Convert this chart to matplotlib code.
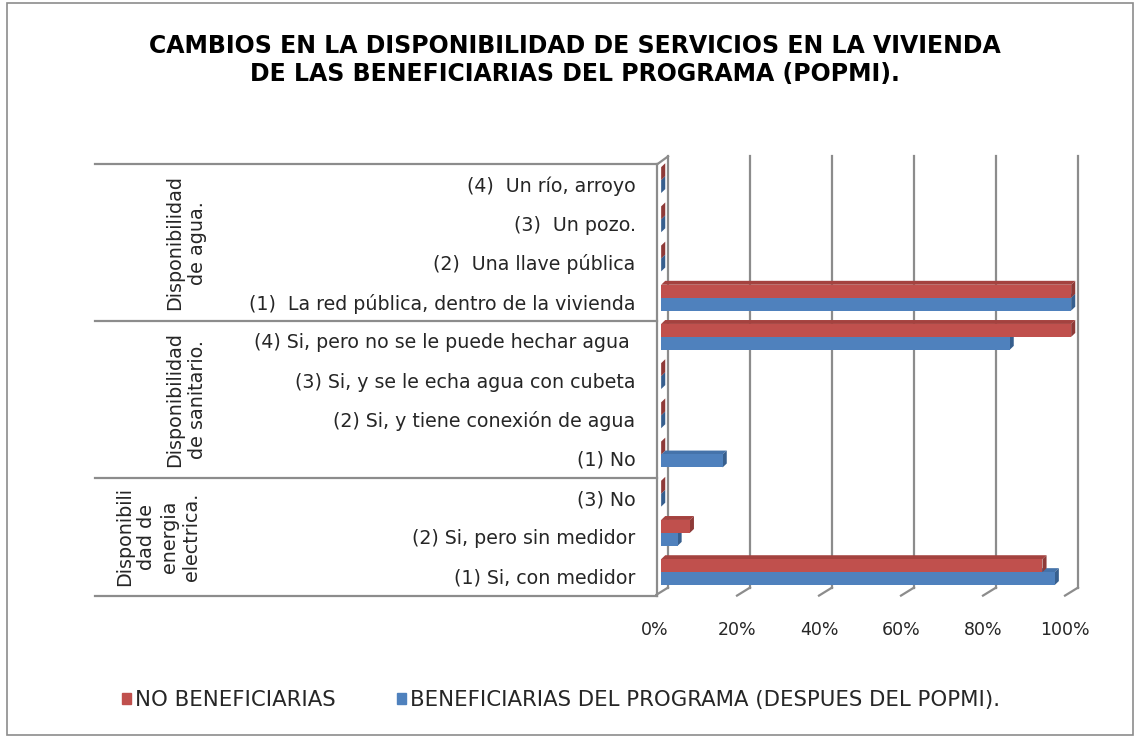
import numpy as np
import matplotlib
matplotlib.use("Agg")
import matplotlib.pyplot as plt
from matplotlib.patches import Polygon, Rectangle, Patch

plt.rcParams['font.family'] = ['DejaVu Sans']

# categories, listed top -> bottom as in the chart
labels = ["(4)  Un río, arroyo", "(3)  Un pozo.", "(2)  Una llave pública",
          "(1)  La red pública, dentro de la vivienda",
          "(4) Si, pero no se le puede hechar agua ",
          "(3) Si, y se le echa agua con cubeta",
          "(2) Si, y tiene conexión de agua", "(1) No",
          "(3) No", "(2) Si, pero sin medidor", "(1) Si, con medidor"]
no_benef = [0, 0, 0, 100, 100, 0, 0, 0, 0, 7, 93]
benef = [0, 0, 0, 100, 85, 0, 0, 15, 0, 4, 96]
groups = ["Disponibilidad\nde agua.", "Disponibilidad\nde sanitario.",
          "Disponibili\ndad de\nenergia\nelectrica."]
group_sizes = [4, 4, 3]
series_names = ["NO BENEFICIARIAS", "BENEFICIARIAS DEL PROGRAMA (DESPUES DEL POPMI)."]
xticks = [0, 20, 40, 60, 80, 100]

RED, RED_SIDE, RED_TOP = "#C0504D", "#8E3A38", "#A4423F"
BLUE, BLUE_SIDE, BLUE_TOP = "#4F81BD", "#375F8E", "#4573AA"
GRID = "#8C8C8C"
TXT = "#262626"

fig = plt.figure(figsize=(11.37, 7.38), dpi=100)
ax = fig.add_axes([655 / 1137, 138 / 738, 435 / 1137, 450 / 738])
ax.set_xlim(0, 435 / 4.1)
ax.set_ylim((576 - 600) / 39.2, (576 - 150) / 39.2)

n = len(labels)
ypos = np.arange(n)[::-1]

# 3d depth offsets (data units)
bx, by = 3.17, 0.204     # back wall
ddx, ddy = 1.0, 0.1      # bar depth

# back wall grid lines + floor ticks
for t in xticks:
    ax.plot([t + bx, t + bx], [-0.5 + by, 10.5 + by], color=GRID, lw=1.6, zorder=1)
    ax.plot([t, t + bx], [-0.5, -0.5 + by], color=GRID, lw=1.6, zorder=1)
# left wall
ax.plot([0.5, 0.5], [-0.5, 10.5], color=GRID, lw=1.6, clip_on=False, zorder=1)
ax.plot([0.5, bx], [10.5, 10.5 + by], color=GRID, lw=1.6, zorder=1)

# category group separators
for yy in [-0.5, 2.5, 6.5, 10.5]:
    ax.plot([(95 - 655) / 4.1, 0.5], [yy, yy], color=GRID, lw=1.6, clip_on=False)

h = 0.33
base = 1.5


def bar3d(y0, v, front, side, top):
    x0, x1 = base, base + v
    y1 = y0 + h
    ax.add_patch(Polygon([(x0, y1), (x1, y1), (x1 + ddx, y1 + ddy), (x0 + ddx, y1 + ddy)],
                         closed=True, fc=top, ec="none", zorder=3))
    ax.add_patch(Polygon([(x1, y0), (x1, y1), (x1 + ddx, y1 + ddy), (x1 + ddx, y0 + ddy)],
                         closed=True, fc=side, ec="none", zorder=3))
    if v > 0:
        ax.barh(y0 + h / 2, v, height=h, left=x0, color=front, zorder=3)


for yp, a, b in zip(ypos, no_benef, benef):
    bar3d(yp - 0.23, b, BLUE, BLUE_SIDE, BLUE_TOP)
    bar3d(yp + 0.10, a, RED, RED_SIDE, RED_TOP)

for s in ax.spines.values():
    s.set_visible(False)
ax.set_xticks(xticks)
ax.set_xticklabels([f"{t}%" for t in xticks], fontsize=12.5, color=TXT)
ax.set_yticks(ypos)
ax.set_yticklabels(labels, fontsize=13.7, color=TXT)
ax.tick_params(axis="x", length=0, pad=15)
ax.tick_params(axis="y", length=0, pad=14)

# group labels
start = n
centers = []
for g in group_sizes:
    top = start - 1
    bottom = start - g
    centers.append((top + bottom) / 2)
    start -= g
gx = [(186 - 655) / 4.1, (186 - 655) / 4.1, (158 - 655) / 4.1]
for name, cy, x in zip(groups, centers, gx):
    ax.text(x, cy, name, rotation=90, ha="center", va="center", fontsize=13.8,
            color=TXT, linespacing=1.22, clip_on=False)

fig.text(575 / 1137, 1 - 60 / 738,
         "CAMBIOS EN LA DISPONIBILIDAD DE SERVICIOS EN LA VIVIENDA\n"
         "DE LAS BENEFICIARIAS DEL PROGRAMA (POPMI).",
         ha="center", va="center", fontsize=17, fontweight="bold", linespacing=1.2)

handles = [Patch(color=RED), Patch(color=BLUE)]
fig.legend(handles, series_names, loc="center left", bbox_to_anchor=(103 / 1137, 1 - 700 / 738),
           ncol=2, frameon=False, fontsize=15.3, handlelength=0.4, handleheight=0.4,
           handletextpad=0.2, columnspacing=2.9, labelcolor=TXT)

fig.add_artist(Rectangle((7 / 1137, 3 / 738), 1126 / 1137, 732 / 738,
                         transform=fig.transFigure, fill=False, ec="#8C8C8C", lw=1.2))

fig.savefig("out.png", dpi=100)
